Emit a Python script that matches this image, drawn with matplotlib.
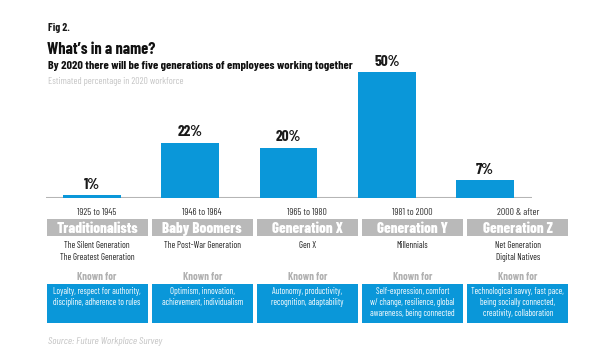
import matplotlib
matplotlib.use("Agg")
import matplotlib.pyplot as plt
from matplotlib.patches import Rectangle

plt.rcParams['font.family'] = ['Barlow Condensed', 'DejaVu Sans']

# ---- data ----
generations = ["Traditionalists", "Baby Boomers", "Generation X", "Generation Y", "Generation Z"]
years = ["1925 to 1945", "1946 to 1964", "1965 to 1980", "1981 to 2000", "2000 & after"]
shares = [1, 22, 20, 50, 7]
aliases = [["The Silent Generation", "The Greatest Generation"],
           ["The Post-War Generation"],
           ["Gen X"],
           ["Millennials"],
           ["Net Generation", "Digital Natives"]]
known_for = ["Loyalty, respect for authority,\ndiscipline, adherence to rules",
             "Optimism, innovation,\nachievement, individualism",
             "Autonomy, productivity,\nrecognition, adaptability",
             "Self-expression, comfort\nw/ change, resilience, global\nawareness, being connected",
             "Technological savvy, fast pace,\nbeing socially connected,\ncreativity, collaboration"]

BLUE = "#0a97d9"
GRAY_BOX = "#b9b9b9"
LINE = "#b5b5b5"

W, H = 600, 363
fig = plt.figure(figsize=(W / 100, H / 100), dpi=100)
fig.patch.set_facecolor("white")

# ---- bar axes (pixel layout) ----
base_px, top_px = 198, 40
left_px, right_px = 46, 532
ax = fig.add_axes([left_px / W, (H - base_px) / H, (right_px - left_px) / W, (base_px - top_px) / H])
x = list(range(len(shares)))
ax.set_xlim(-0.468, 4.478)
ax.set_ylim(0, (base_px - top_px) / 2.52)
ax.axhline(0, color=LINE, lw=2.2, zorder=1)
ax.bar(x, shares, width=0.59, color=BLUE, zorder=2)
for xi, v in zip(x, shares):
    ax.annotate(f"{v}%", (xi, v), xytext=(0, 2.5), textcoords="offset points",
                ha="center", va="bottom", fontsize=11, fontweight="bold", color="#1a1a1a")
ax.axis("off")

# ---- overlay axes in pixel coords for headings and table ----
ov = fig.add_axes([0, 0, 1, 1], zorder=-1)
ov.set_xlim(0, W)
ov.set_ylim(H, 0)
ov.axis("off")

ov.text(48, 28, "Fig 2.", fontsize=8, fontweight="bold", color="#1a1a1a", va="center", ha="left")
ov.text(47, 49, "What\u2019s in a name?", fontsize=11.8, fontweight="bold", color="#111111", va="center", ha="left")
ov.text(48, 66, "By 2020 there will be five generations of employees working together",
        fontsize=8.7, fontweight="bold", color="#111111", va="center", ha="left")
ov.text(48, 82, "Estimated percentage in 2020 workforce", fontsize=7.0, color="#c4c4c4", va="center", ha="left")

col_w = 101
for i in range(len(generations)):
    cl = 46.5 + i * 105.2
    cx = cl + col_w / 2
    ov.text(cx, 212.5, years[i], fontsize=7.0, color="#333333", ha="center", va="center")
    ov.add_patch(Rectangle((cl, 219), col_w, 17, facecolor=GRAY_BOX, edgecolor="none"))
    ov.text(cx, 233, generations[i], fontsize=10.8, fontweight="heavy", color="white",
            ha="center", va="baseline")
    for j, a in enumerate(aliases[i]):
        ov.text(cx, 245 + j * 13, a, fontsize=6.5, color="#222222", ha="center", va="center")
    ov.text(cx, 277, "Known for", fontsize=7.6, fontweight="bold", color="#b0b0b0", ha="center", va="center")
    ov.add_patch(Rectangle((cl, 283.5), col_w, 39, facecolor=BLUE, edgecolor="none"))
    ov.text(cx, 287, known_for[i], fontsize=6.3, color="white", ha="center", va="top", linespacing=1.25)

ov.text(48, 341, "Source: Future Workplace Survey", fontsize=7.5, style="italic", color="#c4c4c4",
        ha="left", va="center")

fig.savefig("out.png", dpi=100, facecolor="white")
